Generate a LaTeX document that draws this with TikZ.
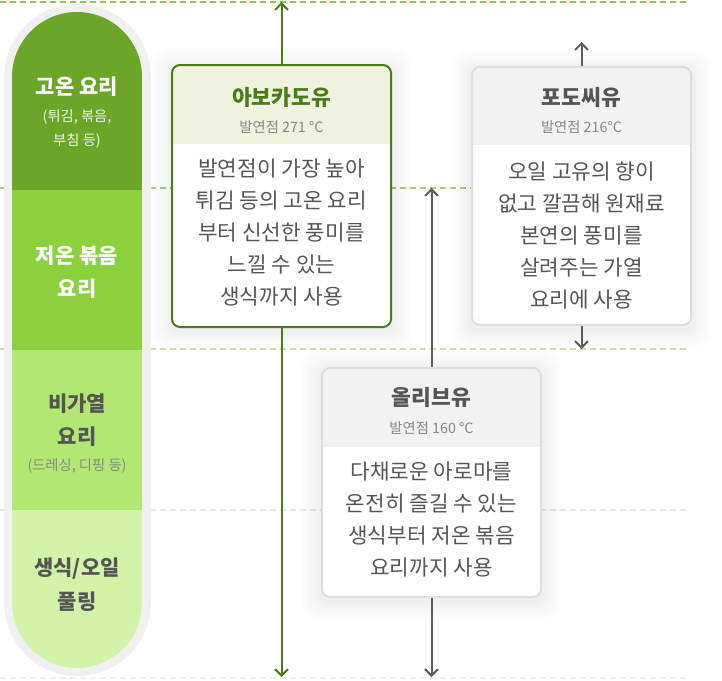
\documentclass[tikz,border=0pt]{standalone}
\usepackage{fontspec}
\setmainfont{Noto Sans CJK KR}
\usetikzlibrary{arrows.meta}
\definecolor{dashA}{HTML}{8DC359}
\definecolor{dashB}{HTML}{9FD274}
\definecolor{dashC}{HTML}{C6E4A8}
\definecolor{dashD}{HTML}{E2EED6}
\definecolor{dashE}{HTML}{EDF4E4}
\definecolor{secA}{HTML}{6BA628}
\definecolor{secB}{HTML}{8BD13D}
\definecolor{secC}{HTML}{B2E872}
\definecolor{secD}{HTML}{D2F4AA}
\definecolor{pillRim}{HTML}{F0F0F0}
\definecolor{avoGreen}{HTML}{4A7D17}
\definecolor{avoHead}{HTML}{EEF2DE}
\definecolor{grayHead}{HTML}{F2F2F2}
\definecolor{grayRim}{HTML}{DDDDDD}
\definecolor{txtDark}{HTML}{555555}
\definecolor{txtMid}{HTML}{888888}
\definecolor{arrGray}{HTML}{5C5C5C}
\begin{document}
\begin{tikzpicture}[x=1pt,y=-1pt,
  dashline/.style={line width=2.5pt,dash pattern=on 6pt off 4pt},
  lblbig/.style={font=\bfseries\fontsize{21}{24}\selectfont},
  lblsmall/.style={font=\fontsize{14.3}{17}\selectfont},
  boxtitle/.style={font=\bfseries\fontsize{21.5}{24}\selectfont},
  boxsub/.style={font=\fontsize{14.3}{17}\selectfont,text=txtMid},
  boxbody/.style={font=\fontsize{21.3}{32}\selectfont,text=txtDark,align=center},
  oilbox/.style={minimum width=219pt,minimum height=#1,inner sep=0pt,rounded corners=8pt},
  garrow/.style={draw=avoGreen,line width=2pt,-{Straight Barb[length=6.5pt,width=13pt,line width=2pt]}},
  gyarrow/.style={draw=arrGray,line width=2pt,-{Straight Barb[length=6.5pt,width=13pt,line width=2pt]}},
]
\useasboundingbox (0,0) rectangle (722,680);
% dashed guide lines
\draw[dashline,dashA] (0,2) -- (690,2);
\draw[dashline,dashB] (0,188) -- (690,188);
\draw[dashline,dashC] (0,349) -- (690,349);
\draw[dashline,dashD] (0,510) -- (690,510);
\draw[dashline,dashE] (0,678) -- (690,678);
% left pill
\fill[pillRim] (4,77.5) arc[start angle=180,end angle=360,radius=73.5] -- (151,602.5) arc[start angle=0,end angle=180,radius=73.5] -- cycle;
\begin{scope}
\clip (12,77) arc[start angle=180,end angle=360,radius=65] -- (142,603) arc[start angle=0,end angle=180,radius=65] -- cycle;
\fill[secA] (12,0) rectangle (142,190);
\fill[secB] (12,190) rectangle (142,350);
\fill[secC] (12,350) rectangle (142,510);
\fill[secD] (12,510) rectangle (142,680);
\end{scope}
\node[lblbig,text=white] (t1) at (77,87) {고온 요리};
\node[lblsmall,text=white!90!secA] (t1a) at (77,117) {(튀김, 볶음,};
\node[lblsmall,text=white!90!secA] (t1b) at (77,141) {부침 등)};
\node[lblbig,text=white] (t2) at (77,256) {저온 볶음};
\node[lblbig,text=white] (t2a) at (77,289) {요리};
\node[lblbig,text=txtDark] (t3) at (77,404) {비가열};
\node[lblbig,text=txtDark] (t3a) at (77,437) {요리};
\node[lblsmall,text=txtMid] (t3b) at (77,466) {(드레싱, 디핑 등)};
\node[lblbig,text=txtDark] (t4) at (77,569) {생식/오일};
\node[lblbig,text=txtDark] (t4a) at (77,602) {풀링};
% shadows
\foreach \bx/\by/\bw/\bh in {172/65/219/262, 472/67/219/258, 322/368/219/229}{
  \foreach \s in {1,...,8}{
    \fill[black,opacity=0.008,rounded corners=8pt+\s pt] (\bx-\s*2.5,\by-\s*2.5+3) rectangle (\bx+\bw+\s*2.5,\by+\bh+\s*2.5+3);
  }
}
% avocado box
\node[oilbox=262pt,fill=white] (avo) at (281.5,196) {};
\begin{scope}
\clip[rounded corners=8pt] (avo.north west) rectangle (avo.south east);
\fill[avoHead] (avo.north west) rectangle ([yshift=-79pt]avo.north east);
\end{scope}
\node[oilbox=262pt,draw=avoGreen,line width=2pt] (avoB) at (281.5,196) {};
\node[boxtitle,text=avoGreen] (avoT) at (281.5,97) {아보카도유};
\node[boxsub] (avoS) at (281.5,127) {발연점 271 °C};
\node[boxbody] (avoX) at (281.5,233) {발연점이 가장 높아\\튀김 등의 고온 요리\\부터 신선한 풍미를\\느낄 수 있는\\생식까지 사용};
% grapeseed box
\node[oilbox=258pt,fill=white] (grp) at (581.5,196) {};
\begin{scope}
\clip[rounded corners=8pt] (grp.north west) rectangle (grp.south east);
\fill[grayHead] (grp.north west) rectangle ([yshift=-78pt]grp.north east);
\end{scope}
\node[oilbox=258pt,draw=grayRim,line width=2pt] (grpB) at (581.5,196) {};
\node[boxtitle,text=txtDark] (grpT) at (581.5,97) {포도씨유};
\node[boxsub] (grpS) at (581.5,127) {발연점 216°C};
\node[boxbody] (grpX) at (581.5,235) {오일 고유의 향이\\없고 깔끔해 원재료\\본연의 풍미를\\살려주는 가열\\요리에 사용};
% olive box
\node[oilbox=229pt,fill=white] (olv) at (431.5,482.5) {};
\begin{scope}
\clip[rounded corners=8pt] (olv.north west) rectangle (olv.south east);
\fill[grayHead] (olv.north west) rectangle ([yshift=-79pt]olv.north east);
\end{scope}
\node[oilbox=229pt,draw=grayRim,line width=2pt] (olvB) at (431.5,482.5) {};
\node[boxtitle,text=txtDark] (olvT) at (431.5,397) {올리브유};
\node[boxsub] (olvS) at (431.5,428) {발연점 160 °C};
\node[boxbody] (olvX) at (431.5,520) {다채로운 아로마를\\온전히 즐길 수 있는\\생식부터 저온 볶음\\요리까지 사용};
% arrow end points
\coordinate (avoUp) at (281.5,2);
\coordinate (avoDn) at (281.5,677);
\coordinate (grpUp) at (581.5,42);
\coordinate (grpDn) at (581.5,349);
\coordinate (olvUp) at (431.5,188);
\coordinate (olvDn) at (431.5,677);
\draw[garrow] (avoB.north) -- (avoUp);
\draw[garrow] (avoB.south) -- (avoDn);
\draw[gyarrow] (grpB.north) -- (grpUp);
\draw[gyarrow] (grpB.south) -- (grpDn);
\draw[gyarrow] (olvB.north) -- (olvUp);
\draw[gyarrow] (olvB.south) -- (olvDn);
\end{tikzpicture}
\end{document}
